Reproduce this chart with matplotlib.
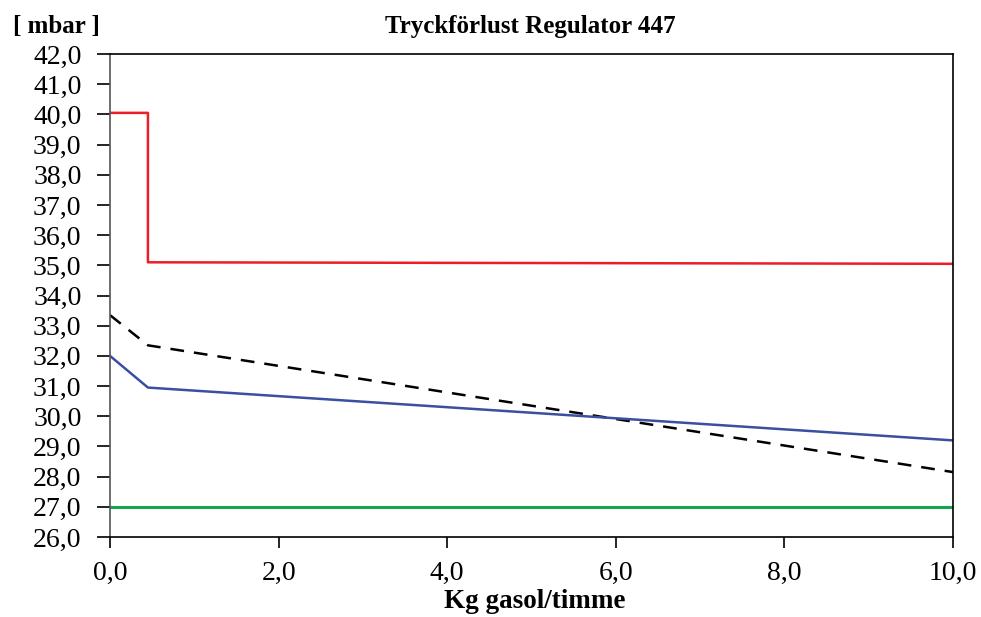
import matplotlib
matplotlib.use("Agg")
import matplotlib.pyplot as plt
from matplotlib.ticker import FuncFormatter, MultipleLocator

# data
red_x = [0.0, 0.45, 0.45, 10.0]
red_y = [40.05, 40.05, 35.1, 35.05]
dash_x = [0.0, 0.45, 10.0]
dash_y = [33.35, 32.35, 28.15]
blue_x = [0.0, 0.45, 10.0]
blue_y = [32.0, 30.95, 29.2]
green_x = [0.0, 10.0]
green_y = [27.0, 27.0]

plt.rcParams['font.family'] = ['Liberation Serif', 'DejaVu Serif']

W, H = 981, 617
fig = plt.figure(figsize=(W/100, H/100), dpi=100)
# axes box in pixels: left 110, right 953, top 54, bottom 537
ax = fig.add_axes([110/W, 1 - 537/H, (953-110)/W, (537-54)/H])

ax.plot(red_x, red_y, color='#ee1c25', lw=1.8)
ax.plot(dash_x, dash_y, color='black', lw=1.8, ls=(0, (5.5, 4)))
ax.plot(blue_x, blue_y, color='#3a4fa0', lw=1.8)
ax.plot(green_x, green_y, color='#12a650', lw=2.2)

ax.set_xlim(0, 10)
ax.set_ylim(26, 42)
ax.yaxis.set_major_locator(MultipleLocator(1.0))
ax.xaxis.set_major_locator(MultipleLocator(2.0))
fmt = FuncFormatter(lambda v, p: ('%.1f' % v).replace('.', ','))
ax.xaxis.set_major_formatter(fmt)
ax.yaxis.set_major_formatter(fmt)
ax.tick_params(axis='both', direction='out', labelsize=20, width=1.2)
ax.tick_params(axis='x', length=8, pad=9)
ax.tick_params(axis='y', length=9.5, pad=11)
for s in ax.spines.values():
    s.set_linewidth(1.2)
ax.spines['left'].set_color('#555555')

fig.text(530/W, 1 - 26/H, 'Tryckförlust Regulator 447', ha='center', va='center',
         fontsize=18, fontweight='bold')
fig.text(13/W, 1 - 27/H, '[ mbar ]', ha='left', va='center', fontsize=18, fontweight='bold')
fig.text(535/W, 1 - 602/H, 'Kg gasol/timme', ha='center', va='center',
         fontsize=19.5, fontweight='bold')

fig.savefig('out.png', dpi=100)
